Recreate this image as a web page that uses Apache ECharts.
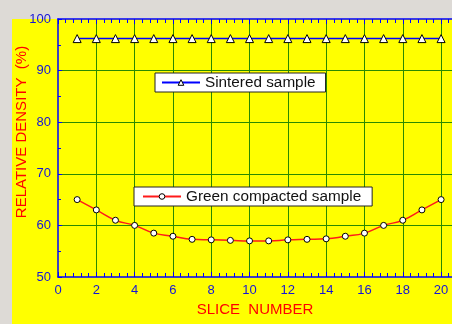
<!DOCTYPE html>
<html>
<head>
<meta charset="utf-8">
<script src="https://cdn.jsdelivr.net/npm/echarts@6/dist/echarts.min.js"></script>
<style>
	html, body { margin: 0; padding: 0; background: #dddad6; }
	#chart { width: 452px; height: 324px; }
</style>
</head>
<body>
<div id="chart"></div>
<script>
// slice numbers along the x axis
var slices = [1, 2, 3, 4, 5, 6, 7, 8, 9, 10, 11, 12, 13, 14, 15, 16, 17, 18, 19, 20];
// relative density (%) of each slice
var sintered = [96.2, 96.2, 96.2, 96.2, 96.2, 96.2, 96.2, 96.2, 96.2, 96.2,
	96.2, 96.2, 96.2, 96.2, 96.2, 96.2, 96.2, 96.2, 96.2, 96.2];
var green = [65.0, 63.0, 61.0, 60.0, 58.5, 57.9, 57.3, 57.2, 57.1, 57.0,
	57.0, 57.2, 57.3, 57.4, 57.9, 58.5, 60.0, 61.0, 63.0, 65.0];
var seriesNames = ['Sintered sample', 'Green compacted sample'];
var xTitle = 'SLICE  NUMBER';
var yTitle = 'RELATIVE DENSITY  (%)';

function pairs(ys) {
	var out = [];
	for (var i = 0; i < slices.length; i++) {
		out.push([slices[i], ys[i]]);
	}
	return out;
}

var font = 'Liberation Sans, Arial, sans-serif';
var blue = '#0000ff';
var gridGreen = '#2a8a00';
var markerStyle = { color: '#fff', borderColor: '#000', borderWidth: 1 };

var chart = echarts.init(document.getElementById('chart'));
var option = {
	animation: false,
	textStyle: { fontFamily: font },
	graphic: [{
		type: 'rect',
		z: -10,
		shape: { x: 12, y: 19, width: 440, height: 305 },
		style: { fill: '#ffff00' }
	}, {
		type: 'text',
		x: 22,
		y: 132,
		rotation: Math.PI / 2,
		style: {
			text: yTitle,
			fill: '#ff0000',
			font: '15px ' + font,
			textAlign: 'center',
			textVerticalAlign: 'middle'
		}
	}],
	grid: { left: 58, top: 19, right: 0, bottom: 47, outerBoundsMode: 'none' },
	legend: [{
		data: [seriesNames[0]],
		left: 155,
		top: 73,
		padding: [2, 10, 2, 6],
		itemWidth: 38,
		itemHeight: 7,
		itemStyle: markerStyle,
		backgroundColor: '#fff',
		borderColor: '#222',
		borderWidth: 1,
		textStyle: { fontSize: 15.3, color: '#111', fontFamily: font }
	}, {
		data: [seriesNames[1]],
		left: 134,
		top: 187,
		padding: [2, 11, 2, 8],
		itemWidth: 38,
		itemHeight: 7,
		itemStyle: markerStyle,
		backgroundColor: '#fff',
		borderColor: '#222',
		borderWidth: 1,
		textStyle: { fontSize: 15.3, color: '#111', fontFamily: font }
	}],
	xAxis: [{
		type: 'value',
		min: 0,
		max: 20.57,
		interval: 2,
		name: xTitle,
		nameLocation: 'middle',
		nameGap: 23,
		nameTextStyle: { color: '#ff0000', fontSize: 15 },
		axisLine: { lineStyle: { color: blue, width: 1.5 } },
		axisTick: { inside: true, length: 5, lineStyle: { color: blue } },
		minorTick: { show: true, splitNumber: 5, length: 4, lineStyle: { color: blue } },
		axisLabel: { color: '#1414d8', fontSize: 13, margin: 7, showMaxLabel: false },
		splitLine: { show: true, showMinLine: false, showMaxLine: false, lineStyle: { color: gridGreen, width: 1 } }
	}, {
		type: 'value',
		position: 'top',
		min: 0,
		max: 20.57,
		interval: 2,
		axisLine: { lineStyle: { color: blue, width: 1.5 } },
		axisTick: { inside: true, length: 5, lineStyle: { color: blue } },
		minorTick: { show: true, splitNumber: 5, length: 4, lineStyle: { color: blue } },
		axisLabel: { show: false },
		splitLine: { show: false }
	}],
	yAxis: {
		type: 'value',
		min: 50,
		max: 100,
		interval: 10,
		axisLine: { show: true, lineStyle: { color: blue, width: 1.5 } },
		axisTick: { show: true, inside: true, length: 4, lineStyle: { color: blue } },
		minorTick: { show: true, splitNumber: 2, length: 3, lineStyle: { color: blue } },
		axisLabel: { color: '#1414d8', fontSize: 13, margin: 7 },
		splitLine: { show: true, showMinLine: false, showMaxLine: false, lineStyle: { color: gridGreen, width: 1 } }
	},
	series: [{
		name: seriesNames[0],
		type: 'line',
		data: pairs(sintered),
		symbol: 'triangle',
		symbolSize: 8,
		lineStyle: { color: blue, width: 1.5 },
		itemStyle: markerStyle
	}, {
		name: seriesNames[1],
		type: 'line',
		data: pairs(green),
		smooth: true,
		symbol: 'circle',
		symbolSize: 6,
		lineStyle: { color: '#ff1a1a', width: 1.5 },
		itemStyle: markerStyle
	}]
};

chart.setOption(option);
</script>
</body>
</html>
